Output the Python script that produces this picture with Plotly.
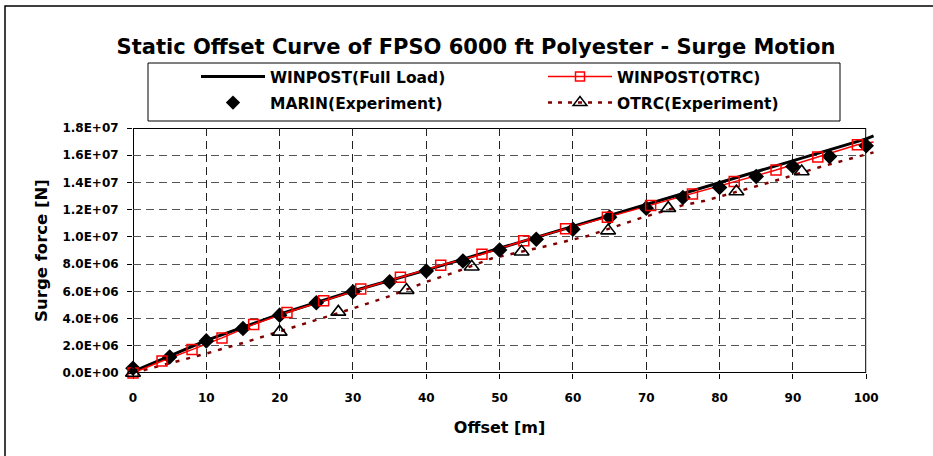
import plotly.graph_objects as go

# ---------------- data ----------------
offset_full = [0, 10, 20, 30, 40, 50, 60, 70, 80, 90, 100, 101]
force_full = [1.0e5, 2.40e6, 4.32e6, 6.02e6, 7.56e6, 9.16e6, 1.075e7, 1.235e7,
              1.40e7, 1.555e7, 1.72e7, 1.743e7]

offset_otrc_model = [0, 3.96, 8.05, 12.14, 16.46, 21.0, 26.0, 31.06, 36.47, 41.97,
                     47.6, 53.3, 59.0, 64.7, 70.6, 76.3, 82.0, 87.7, 93.4, 98.8]
force_otrc_model = [0, 8.8e5, 1.72e6, 2.58e6, 3.57e6, 4.45e6, 5.30e6, 6.17e6, 7.03e6, 7.91e6,
                    8.72e6, 9.72e6, 1.059e7, 1.145e7, 1.230e7, 1.316e7, 1.407e7, 1.491e7,
                    1.587e7, 1.677e7]
offset_otrc_model_line = offset_otrc_model + [101]
force_otrc_model_line = force_otrc_model + [1.697e7]

offset_marin = [0, 5, 10, 15, 20, 25, 30, 35, 40, 45, 50, 55, 60, 65, 70, 75, 80, 85, 90, 95, 100]
force_marin = [3.5e5, 1.18e6, 2.36e6, 3.27e6, 4.25e6, 5.16e6, 5.97e6, 6.70e6, 7.49e6, 8.23e6,
               9.04e6, 9.83e6, 1.056e7, 1.145e7, 1.211e7, 1.289e7, 1.363e7, 1.444e7, 1.517e7,
               1.591e7, 1.670e7]

offset_otrc_exp = [0, 20.0, 28.0, 37.3, 46.2, 53.0, 64.8, 73.0, 82.3, 91.2]
force_otrc_exp = [0, 3.02e6, 4.49e6, 6.09e6, 7.81e6, 8.91e6, 1.046e7, 1.211e7, 1.333e7, 1.480e7]

offset_otrc_trend = [0, 7, 10, 15, 21, 26, 30, 35, 40, 44, 49, 51, 56, 62, 69, 75, 78, 87, 94, 101]
force_otrc_trend = [0, 1.0e6, 1.43e6, 2.21e6, 3.22e6, 4.05e6, 4.74e6, 5.65e6, 6.70e6, 7.42e6,
                    8.43e6, 8.67e6, 9.28e6, 1.007e7, 1.134e7, 1.233e7, 1.265e7, 1.403e7,
                    1.518e7, 1.621e7]

x_ticks = [0, 10, 20, 30, 40, 50, 60, 70, 80, 90, 100]
y_ticks = [0, 2e6, 4e6, 6e6, 8e6, 1e7, 1.2e7, 1.4e7, 1.6e7, 1.8e7]
y_tick_text = ["0.0E+00", "2.0E+06", "4.0E+06", "6.0E+06", "8.0E+06", "1.0E+07",
               "1.2E+07", "1.4E+07", "1.6E+07", "1.8E+07"]

title_text = "Static Offset Curve of FPSO 6000 ft Polyester - Surge Motion"

# ---------------- geometry ----------------
W, H = 933, 456
L, R, T, B = 133, 875, 128, 373
PW, PH = R - L, B - T
X_MAX = 100
X2_MAX = 101.2
FONT = "DejaVu Sans"


def cx(px):
    return px / W


def cy(py):
    return 1 - py / H


def pxp(px):
    return (px - L) / PW


def pyp(py):
    return (B - py) / PH


DARKRED = "#800000"

fig = go.Figure()

# data traces on the (slightly wider) x2/y2 subplot so lines can poke past the frame
fig.add_trace(go.Scatter(x=offset_otrc_trend, y=force_otrc_trend, mode="lines",
                         line=dict(color=DARKRED, width=2.5, dash="4px,7px"),
                         xaxis="x2", yaxis="y2", showlegend=False, hoverinfo="skip"))
fig.add_trace(go.Scatter(x=offset_full, y=force_full, mode="lines",
                         line=dict(color="black", width=3),
                         xaxis="x2", yaxis="y2", showlegend=False))
fig.add_trace(go.Scatter(x=offset_otrc_model_line, y=force_otrc_model_line, mode="lines",
                         line=dict(color="#FF0000", width=1.5),
                         xaxis="x2", yaxis="y2", showlegend=False))
fig.add_trace(go.Scatter(x=offset_marin, y=force_marin, mode="markers",
                         marker=dict(symbol="diamond", size=12, color="black"),
                         xaxis="x2", yaxis="y2", showlegend=False, cliponaxis=False))
fig.add_trace(go.Scatter(x=offset_otrc_model, y=force_otrc_model, mode="markers",
                         marker=dict(symbol="square-open", size=10, color="#FF0000",
                                     line=dict(width=1.5, color="#FF0000")),
                         xaxis="x2", yaxis="y2", showlegend=False, cliponaxis=False))
fig.add_trace(go.Scatter(x=offset_otrc_exp, y=force_otrc_exp, mode="markers",
                         marker=dict(symbol="triangle-up-open", size=13, color="black",
                                     line=dict(width=1.6, color="black")),
                         xaxis="x2", yaxis="y2", showlegend=False, cliponaxis=False))

# legend entries
fig.add_trace(go.Scatter(x=[None], y=[None], mode="lines", name="WINPOST(Full Load)",
                         line=dict(color="black", width=3), legend="legend",
                         xaxis="x2", yaxis="y2"))
fig.add_trace(go.Scatter(x=[None], y=[None], mode="lines+markers", name="WINPOST(OTRC)",
                         line=dict(color="#FF0000", width=1.5),
                         marker=dict(symbol="square-open", size=9, color="#FF0000",
                                     line=dict(width=1.5, color="#FF0000")),
                         legend="legend", xaxis="x2", yaxis="y2"))
fig.add_trace(go.Scatter(x=[None], y=[None], mode="markers", name="MARIN(Experiment)",
                         marker=dict(symbol="diamond", size=11, color="black"),
                         legend="legend2", xaxis="x2", yaxis="y2"))
fig.add_trace(go.Scatter(x=[None], y=[None], mode="lines+markers", name="OTRC(Experiment)",
                         line=dict(color=DARKRED, width=2.5, dash="4px,6px"),
                         marker=dict(symbol="triangle-up-open", size=12, color="black",
                                     line=dict(width=1.5, color="black")),
                         legend="legend2", xaxis="x2", yaxis="y2"))

legend_common = dict(orientation="h", xref="container", yref="container",
                     xanchor="left", yanchor="middle", bgcolor="rgba(0,0,0,0)",
                     borderwidth=0, entrywidthmode="pixels", entrywidth=268,
                     itemwidth=64, traceorder="normal", itemclick=False, itemdoubleclick=False,
                     font=dict(family=FONT, size=15.5, color="black", weight="bold"))

fig.update_layout(
    width=W, height=H,
    margin=dict(l=L, r=W - R, t=T, b=H - B, pad=0, autoexpand=False),
    paper_bgcolor="white", plot_bgcolor="rgba(0,0,0,0)",
    title=dict(text=title_text, x=cx(476), xref="container", xanchor="center",
               y=cy(47), yref="container", yanchor="middle",
               font=dict(family=FONT, size=21, color="black", weight="bold")),
    legend=dict(legend_common, x=cx(196), y=cy(77)),
    legend2=dict(legend_common, x=cx(196), y=cy(103)),
    xaxis=dict(domain=[0, X_MAX / X2_MAX], range=[0, X_MAX], tickvals=x_ticks,
               automargin=False,
               showgrid=True, gridcolor="#222222", gridwidth=1, griddash="8px,5px",
               zeroline=False, showline=False, ticks="outside", ticklen=5,
               tickcolor="black", tickwidth=1, ticklabelstandoff=9,
               tickfont=dict(family=FONT, size=12, color="black", weight="bold"),
               title=dict(text="Offset [m]", standoff=17,
                          font=dict(family=FONT, size=16, color="black", weight="bold"))),
    yaxis=dict(range=[0, 1.8e7], tickvals=y_ticks, ticktext=y_tick_text,
               automargin=False,
               showgrid=True, gridcolor="#555555", gridwidth=1, griddash="8px,5px",
               zeroline=False, showline=False, ticks="outside", ticklen=5,
               tickcolor="black", tickwidth=1, ticklabelstandoff=6,
               tickfont=dict(family=FONT, size=12, color="black", weight="bold"),
               title=dict(text="Surge force [N]", standoff=10,
                          font=dict(family=FONT, size=16.5, color="black", weight="bold"))),
    xaxis2=dict(domain=[0, 1], range=[0, X2_MAX], anchor="y2", visible=False),
    yaxis2=dict(domain=[0, 1], range=[0, 1.8e7], anchor="x2", visible=False),
    shapes=[
        # outer chart border
        dict(type="rect", xref="paper", yref="paper", x0=pxp(5), x1=pxp(960),
             y0=pyp(480), y1=pyp(6), line=dict(color="black", width=1.5),
             fillcolor="rgba(0,0,0,0)", layer="below"),
        # legend box
        dict(type="rect", xref="paper", yref="paper", x0=pxp(148), x1=pxp(840),
             y0=pyp(121), y1=pyp(63), line=dict(color="black", width=1),
             fillcolor="white", layer="above"),
        # plot frame
        dict(type="rect", xref="x", yref="y", x0=0, x1=X_MAX, y0=0, y1=1.8e7,
             line=dict(color="black", width=2), fillcolor="rgba(0,0,0,0)", layer="below"),
    ],
)

fig.write_html("out.html",
               config={"displayModeBar": False},
               post_script="document.body.style.margin='0px';document.body.style.padding='0px';")
